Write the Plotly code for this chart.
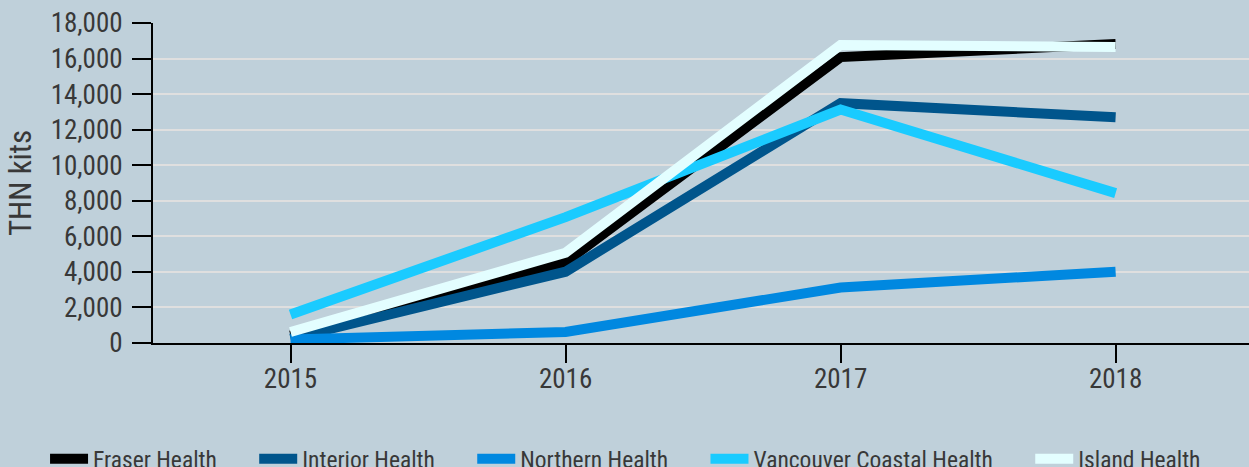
import plotly.graph_objects as go

years = [2015, 2016, 2017, 2018]
fraser = [420, 4550, 16080, 16820]
interior = [250, 4010, 13490, 12700]
northern = [200, 620, 3120, 4010]
vancouver = [1600, 7080, 13130, 8430]
island = [620, 5080, 16760, 16650]

series = [
    ("Fraser Health", fraser, "#000000"),
    ("Interior Health", interior, "#00558C"),
    ("Northern Health", northern, "#0088E0"),
    ("Vancouver Coastal Health", vancouver, "#1ACBFF"),
    ("Island Health", island, "#E3FEFF"),
]

FONT = "Roboto Condensed, Roboto, sans-serif"
PAD = "\u00a0" * 6

fig = go.Figure()
for i, (name, vals, color) in enumerate(series):
    label = name + (PAD if i < len(series) - 1 else "")
    fig.add_trace(go.Scatter(
        x=years, y=vals, name=label, mode="lines",
        line=dict(color=color, width=10),
    ))

fig.update_layout(
    width=1249, height=467, autosize=False,
    paper_bgcolor="#BFD0DA", plot_bgcolor="#BFD0DA",
    margin=dict(l=153, r=0, t=23, b=124, autoexpand=False),
    font=dict(family=FONT, color="#383838", size=27),
    showlegend=True,
    legend=dict(
        orientation="h", xref="paper", yref="paper",
        x=-0.0985, xanchor="left", y=-0.2935, yanchor="top",
        itemwidth=38,
        font=dict(size=23.5, family=FONT, color="#383838"),
        bgcolor="rgba(0,0,0,0)",
    ),
)
fig.update_xaxes(
    range=[2014.5, 2018.485], tickvals=years, ticktext=[str(y) for y in years],
    showgrid=False, zeroline=False,
    showline=True, linecolor="black", linewidth=2,
    ticks="outside", ticklen=18, tickwidth=2, tickcolor="black",
    ticklabelstandoff=-7,
    tickfont=dict(size=27, family=FONT, color="#383838"),
)
fig.update_yaxes(
    range=[0, 18000], dtick=2000, tickformat=",",
    showgrid=True, gridcolor="#DFDFDF", gridwidth=2, zeroline=False,
    showline=True, linecolor="black", linewidth=2,
    ticks="outside", ticklen=19, tickwidth=2, tickcolor="black",
    ticklabelstandoff=4,
    tickfont=dict(size=27, family=FONT, color="#383838"),
    title=dict(text="THN kits", font=dict(size=31, family=FONT, color="#383838"), standoff=10),
)

fig.write_html(
    "out.html",
    config={"displayModeBar": False},
    post_script="document.body.style.margin='0';document.body.style.padding='0';",
)
